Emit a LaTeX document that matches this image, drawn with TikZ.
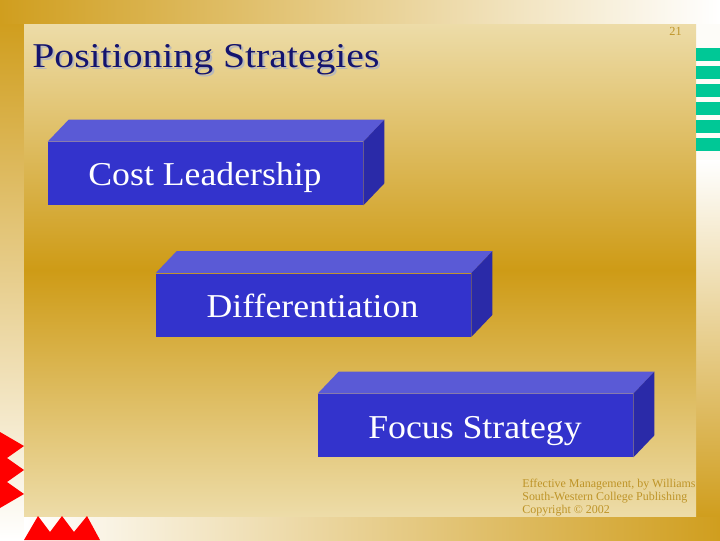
\documentclass[tikz,border=0pt]{standalone}
\usepackage{fontspec}
\setmainfont{Liberation Serif}
\definecolor{gold}{RGB}{206,155,22}
\definecolor{panellight}{RGB}{237,220,168}
\definecolor{stripgold}{RGB}{208,158,30}
\definecolor{boxfront}{RGB}{51,51,204}
\definecolor{boxtop}{RGB}{90,90,214}
\definecolor{boxside}{RGB}{42,42,168}
\definecolor{titleblue}{RGB}{20,20,110}
\definecolor{footgold}{RGB}{190,148,40}
\definecolor{barteal}{RGB}{0,200,150}
\definecolor{zigred}{RGB}{255,0,0}

\begin{document}
\begin{tikzpicture}[x=0.2mm,y=-0.2mm,
    front/.style={fill=boxfront, text=white, minimum width=63mm, minimum height=12.6mm, inner sep=0pt, font=\fontsize{19}{23}\selectfont},
    boxtext/.style={inner sep=0pt, text=white, xscale=1.07, font=\fontsize{19}{23}\selectfont},
    topface/.style={fill=boxtop},
    sideface/.style={fill=boxside}]
    \useasboundingbox (0,0) rectangle (720,540);
    \shade[left color=stripgold, right color=white] (0,0) rectangle (720,24);
    \shade[top color=stripgold, bottom color=white] (0,24) rectangle (24,540);
    \shade[left color=white, right color=stripgold] (24,516) rectangle (720,540);
    \fill[white!97!gold] (696,24) rectangle (720,160);
    \shade[top color=white, bottom color=stripgold] (696,160) rectangle (720,516);
    \shade[top color=panellight, bottom color=panellight, middle color=gold] (24,24) rectangle (696,516);
    \foreach \y in {48,66,84,102,120,138}
        \fill[barteal] (696,\y) rectangle (720,\y+13);
    \fill[zigred] (0,432) -- (24,446) -- (7,458) -- (24,470) -- (7,482) -- (24,494) -- (0,508) -- cycle;
    \fill[zigred] (24,540) -- (38,516) -- (50,532) -- (62,516) -- (74,532) -- (87,516) -- (100,540) -- cycle;
    \node[anchor=base west, inner sep=0pt, xscale=1.14, text=gray!55, font=\fontsize{19.8}{24}\selectfont] at (34,69) (titleshadow) {Positioning Strategies};
    \node[anchor=base west, inner sep=0pt, xscale=1.14, text=titleblue, font=\fontsize{19.8}{24}\selectfont] at (32,67) (title) {Positioning Strategies};
    \node[anchor=base west, inner sep=0pt, text=footgold, font=\fontsize{7}{8}\selectfont] at (669,35) (pagenum) {21};
    \node[front] at (205.5,173.5) (cost) {};
    \node[boxtext, anchor=base] at (205,185) (costlabel) {Cost Leadership};
    \fill[topface] (cost.north west) -- ++(21,-22) -- ([shift={(21,-22)}]cost.north east) -- (cost.north east) -- cycle;
    \fill[sideface] (cost.north east) -- ++(21,-22) -- ([shift={(21,-22)}]cost.south east) -- (cost.south east) -- cycle;
    \node[front] at (313.5,305) (diff) {};
    \node[boxtext, anchor=base] at (312.5,317) (difflabel) {Differentiation};
    \fill[topface] (diff.north west) -- ++(21,-22) -- ([shift={(21,-22)}]diff.north east) -- (diff.north east) -- cycle;
    \fill[sideface] (diff.north east) -- ++(21,-22) -- ([shift={(21,-22)}]diff.south east) -- (diff.south east) -- cycle;
    \node[front] at (475.5,425.5) (focus) {};
    \node[boxtext, anchor=base] at (475,438) (focuslabel) {Focus Strategy};
    \fill[topface] (focus.north west) -- ++(21,-22) -- ([shift={(21,-22)}]focus.north east) -- (focus.north east) -- cycle;
    \fill[sideface] (focus.north east) -- ++(21,-22) -- ([shift={(21,-22)}]focus.south east) -- (focus.south east) -- cycle;
    \node[anchor=north west, inner sep=0pt, align=left, text=footgold, font=\fontsize{6.8}{7.2}\selectfont] at (522,479) (credits) {Effective Management, by Williams\\South-Western College Publishing\\Copyright \copyright{} 2002};
\end{tikzpicture}
\end{document}
